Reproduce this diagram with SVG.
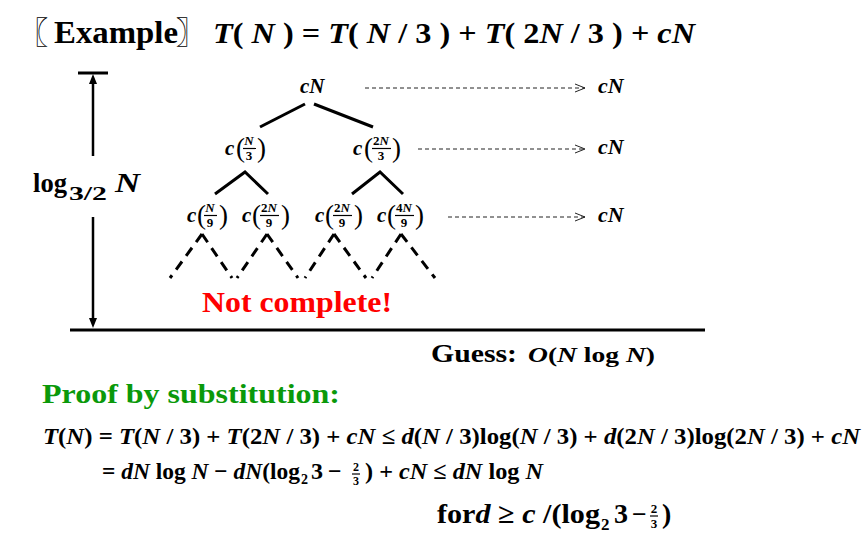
<svg xmlns="http://www.w3.org/2000/svg" width="864" height="542" viewBox="0 0 864 542">
<defs>
<style>
text{font-family:'Liberation Serif','DejaVu Serif',serif;font-weight:bold;fill:#000}
.cjk{font-family:'Noto Sans CJK SC',sans-serif;font-weight:bold}
.i{font-style:italic}
.tree{stroke:#000;stroke-width:3;fill:none}
.dash{stroke:#000;stroke-width:3;fill:none;stroke-dasharray:10 7}
.arr{stroke:#222;stroke-width:1;fill:none;stroke-dasharray:4 3;marker-end:url(#open)}
.bar{stroke:#000;stroke-width:1.2}
.fr{font-size:13px}
.par{font-size:27px;font-weight:normal}
</style>
<marker id="open" markerWidth="12" markerHeight="10" refX="10" refY="5" orient="auto" markerUnits="userSpaceOnUse">
<path d="M0,1 L10,5 L0,9" fill="none" stroke="#222" stroke-width="1"/>
</marker>
</defs>
<rect width="864" height="542" fill="#fff"/>

<g id="title">
<text class="cjk" x="18" y="43" font-size="30">〖</text>
<text x="54" y="43" font-size="31" textLength="124" lengthAdjust="spacingAndGlyphs">Example</text>
<text class="cjk" x="176" y="43" font-size="30">〗</text>
<text x="213" y="43" font-size="30" textLength="482" lengthAdjust="spacingAndGlyphs"><tspan class="i">T</tspan>( <tspan class="i">N</tspan> ) = <tspan class="i">T</tspan>( <tspan class="i">N</tspan> / 3 ) + <tspan class="i">T</tspan>( 2<tspan class="i">N</tspan> / 3 ) + <tspan class="i">cN</tspan></text>
</g>

<g id="connectors">
<line class="tree" x1="305" y1="104" x2="260" y2="127"/>
<line class="tree" x1="314" y1="104" x2="373" y2="127"/>
<polyline class="tree" points="215,194 245,172 268,194"/>
<polyline class="tree" points="352,194 380,172 403,194"/>
<line class="dash" x1="202" y1="234" x2="170" y2="278"/>
<line class="dash" x1="202" y1="234" x2="232" y2="278"/>
<line class="dash" x1="267" y1="234" x2="237" y2="278"/>
<line class="dash" x1="267" y1="234" x2="298" y2="278"/>
<line class="dash" x1="334" y1="234" x2="305" y2="278"/>
<line class="dash" x1="334" y1="234" x2="366" y2="278"/>
<line class="dash" x1="401" y1="234" x2="372" y2="278"/>
<line class="dash" x1="401" y1="234" x2="435" y2="278"/>
<line class="arr" x1="365" y1="88" x2="585" y2="88"/>
<line class="arr" x1="418" y1="149" x2="585" y2="149"/>
<line class="arr" x1="448" y1="217" x2="585" y2="217"/>
<line x1="78" y1="73" x2="108" y2="73" stroke="#000" stroke-width="3"/>
<line x1="93" y1="82" x2="93" y2="156" stroke="#000" stroke-width="2.5"/>
<path d="M93,74 L89,84 L97,84 Z" fill="#000"/>
<line x1="93" y1="217" x2="93" y2="320" stroke="#000" stroke-width="2.5"/>
<path d="M93,328 L89,318 L97,318 Z" fill="#000"/>
<line x1="70" y1="330" x2="705" y2="330" stroke="#000" stroke-width="3"/>
</g>

<g id="height-label">
<text x="33" y="192" font-size="28" textLength="34" lengthAdjust="spacingAndGlyphs">log</text>
<text x="69" y="200" font-size="18" textLength="38" lengthAdjust="spacingAndGlyphs">3/2</text>
<text class="i" x="115" y="192" font-size="28" textLength="25" lengthAdjust="spacingAndGlyphs">N</text>
</g>

<g id="n0"><text class="i" x="300" y="93" font-size="21">cN</text></g>

<g id="n1">
<text class="i" x="225" y="155" font-size="21">c</text>
<text class="par" x="236" y="157">(</text>
<text class="i fr" x="249" y="145" text-anchor="middle">N</text>
<line class="bar" x1="243" y1="148.5" x2="256" y2="148.5"/>
<text class="fr" x="249" y="160" text-anchor="middle">3</text>
<text class="par" x="257" y="157">)</text>
</g>

<g id="n2">
<text class="i" x="353" y="155" font-size="21">c</text>
<text class="par" x="364" y="157">(</text>
<text class="fr" x="381" y="145" text-anchor="middle">2<tspan class="i">N</tspan></text>
<line class="bar" x1="372" y1="148.5" x2="391" y2="148.5"/>
<text class="fr" x="381" y="160" text-anchor="middle">3</text>
<text class="par" x="392" y="157">)</text>
</g>

<g id="n3">
<text class="i" x="187" y="222" font-size="21">c</text>
<text class="par" x="197" y="224">(</text>
<text class="i fr" x="210" y="212" text-anchor="middle">N</text>
<line class="bar" x1="204" y1="215.5" x2="217" y2="215.5"/>
<text class="fr" x="210" y="227" text-anchor="middle">9</text>
<text class="par" x="219" y="224">)</text>
</g>

<g id="n4">
<text class="i" x="242" y="222" font-size="21">c</text>
<text class="par" x="252" y="224">(</text>
<text class="fr" x="269" y="212" text-anchor="middle">2<tspan class="i">N</tspan></text>
<line class="bar" x1="260" y1="215.5" x2="279" y2="215.5"/>
<text class="fr" x="269" y="227" text-anchor="middle">9</text>
<text class="par" x="281" y="224">)</text>
</g>

<g id="n5">
<text class="i" x="315" y="222" font-size="21">c</text>
<text class="par" x="325" y="224">(</text>
<text class="fr" x="342" y="212" text-anchor="middle">2<tspan class="i">N</tspan></text>
<line class="bar" x1="333" y1="215.5" x2="352" y2="215.5"/>
<text class="fr" x="342" y="227" text-anchor="middle">9</text>
<text class="par" x="354" y="224">)</text>
</g>

<g id="n6">
<text class="i" x="377" y="222" font-size="21">c</text>
<text class="par" x="387" y="224">(</text>
<text class="fr" x="404" y="212" text-anchor="middle">4<tspan class="i">N</tspan></text>
<line class="bar" x1="395" y1="215.5" x2="414" y2="215.5"/>
<text class="fr" x="404" y="227" text-anchor="middle">9</text>
<text class="par" x="415" y="224">)</text>
</g>

<g id="level-sums">
<text class="i" x="598" y="93" font-size="22">cN</text>
<text class="i" x="598" y="154" font-size="22">cN</text>
<text class="i" x="598" y="222" font-size="22">cN</text>
</g>

<g id="not-complete">
<text x="202" y="312" font-size="30" style="fill:#ff0000" textLength="190" lengthAdjust="spacingAndGlyphs">Not complete!</text>
</g>

<g id="guess">
<text x="431" y="362" font-size="25" textLength="86" lengthAdjust="spacingAndGlyphs">Guess:</text>
<text x="528" y="362" font-size="21" textLength="127" lengthAdjust="spacingAndGlyphs"><tspan class="i">O</tspan>(<tspan class="i">N</tspan> log <tspan class="i">N</tspan>)</text>
</g>

<g id="proof">
<text x="42" y="403" font-size="27" style="fill:#0a990a" textLength="298" lengthAdjust="spacingAndGlyphs">Proof by substitution:</text>
<text x="43" y="444" font-size="24" textLength="817" lengthAdjust="spacingAndGlyphs"><tspan class="i">T</tspan>(<tspan class="i">N</tspan>) = <tspan class="i">T</tspan>(<tspan class="i">N</tspan> / 3) + <tspan class="i">T</tspan>(2<tspan class="i">N</tspan> / 3) + <tspan class="i">cN</tspan> ≤ <tspan class="i">d</tspan>(<tspan class="i">N</tspan> / 3)log(<tspan class="i">N</tspan> / 3) + <tspan class="i">d</tspan>(2<tspan class="i">N</tspan> / 3)log(2<tspan class="i">N</tspan> / 3) + <tspan class="i">cN</tspan></text>
<text x="102" y="479" font-size="24" textLength="198" lengthAdjust="spacingAndGlyphs">= <tspan class="i">dN</tspan> log <tspan class="i">N</tspan> − <tspan class="i">dN</tspan>(log</text>
<text x="301" y="484" font-size="14">2</text>
<text x="311" y="479" font-size="24">3</text>
<text x="328" y="479" font-size="24">−</text>
<text x="356" y="471" font-size="12" text-anchor="middle">2</text>
<line class="bar" x1="352" y1="474" x2="360" y2="474"/>
<text x="356" y="485" font-size="12" text-anchor="middle">3</text>
<text x="365" y="479" font-size="24" textLength="178" lengthAdjust="spacingAndGlyphs">) + <tspan class="i">cN</tspan> ≤ <tspan class="i">dN</tspan> log <tspan class="i">N</tspan></text>
<text x="437" y="523" font-size="28" textLength="163" lengthAdjust="spacingAndGlyphs">for<tspan class="i">d</tspan> ≥ <tspan class="i">c</tspan> /(log</text>
<text x="601" y="530" font-size="17">2</text>
<text x="614" y="523" font-size="28">3</text>
<text x="632" y="523" font-size="26">−</text>
<text x="654" y="513" font-size="13" text-anchor="middle">2</text>
<line class="bar" x1="650" y1="516" x2="658" y2="516"/>
<text x="654" y="528" font-size="13" text-anchor="middle">3</text>
<text x="662" y="523" font-size="28">)</text>
</g>
</svg>
